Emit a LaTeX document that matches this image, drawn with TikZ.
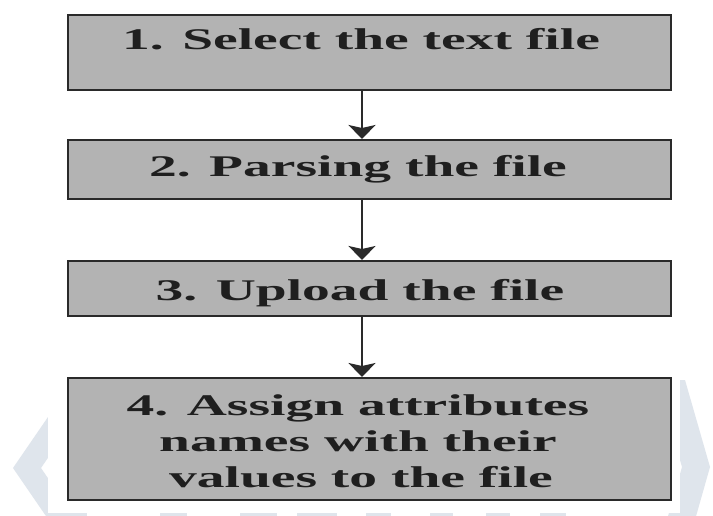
\documentclass[tikz,border=0pt]{standalone}
\usepackage{fontspec}
\setmainfont{Liberation Serif}[FakeStretch=1.85]
\usetikzlibrary{arrows.meta}
\definecolor{boxfill}{HTML}{B3B3B3}
\definecolor{boxline}{HTML}{2A2A2A}
\definecolor{wm}{HTML}{DFE5EC}
\begin{document}
\begin{tikzpicture}[x=1pt,y=-1pt,
  stepbox/.style={draw=boxline, line width=2pt, fill=boxfill, inner sep=0pt, minimum width=603pt},
  lbl/.style={font=\fontsize{30}{36}\selectfont\bfseries, text=black!88, anchor=base, inner sep=0pt},
  flow/.style={draw=boxline, line width=2pt, -{Stealth[width=27pt,length=14pt,inset=3pt]}},
  wmark/.style={fill=wm, draw=none}]
\useasboundingbox (0,0) rectangle (713,516);
\clip (0,0) rectangle (713,516);
\fill[white] (0,0) rectangle (713,516);
% watermark fragments
\fill[wmark] (83,366) -- (13,468) -- (83,570) -- (111,570) -- (41,468) -- (111,366) -- cycle;
\fill[wmark] (685,380) -- (710,467) -- (685,555) -- (657,555) -- (682,467) -- (657,380) -- cycle;
\foreach \a/\b in {53/87,160/187,240/277,297/337,366/391,430/453,486/510,540/566}
  \fill[wmark] (\a,513) rectangle (\b,516);
\fill[white] (48,0) rectangle (680,513);
% boxes
\node[stepbox, minimum height=75pt] (b1) at (369.5,52.5) {};
\node[stepbox, minimum height=59pt] (b2) at (369.5,169.5) {};
\node[stepbox, minimum height=55pt] (b3) at (369.5,288.5) {};
\node[stepbox, minimum height=122pt] (b4) at (369.5,439) {};
% texts
\node[lbl] (t1) at (361,50) {1. Select the text file};
\node[lbl] (t2) at (358,177) {2. Parsing the file};
\node[lbl] (t3) at (360,300) {3. Upload the file};
\node[lbl] (t4a) at (358,415) {4. Assign attributes};
\node[lbl] (t4b) at (358,451) {names with their};
\node[lbl] (t4c) at (361,487) {values to the file};
% connectors
\coordinate (ax) at (362,0);
\draw[flow] (b1.south -| ax) -- (b2.north -| ax);
\draw[flow] (b2.south -| ax) -- (b3.north -| ax);
\draw[flow] (b3.south -| ax) -- (b4.north -| ax);
\end{tikzpicture}
\end{document}
